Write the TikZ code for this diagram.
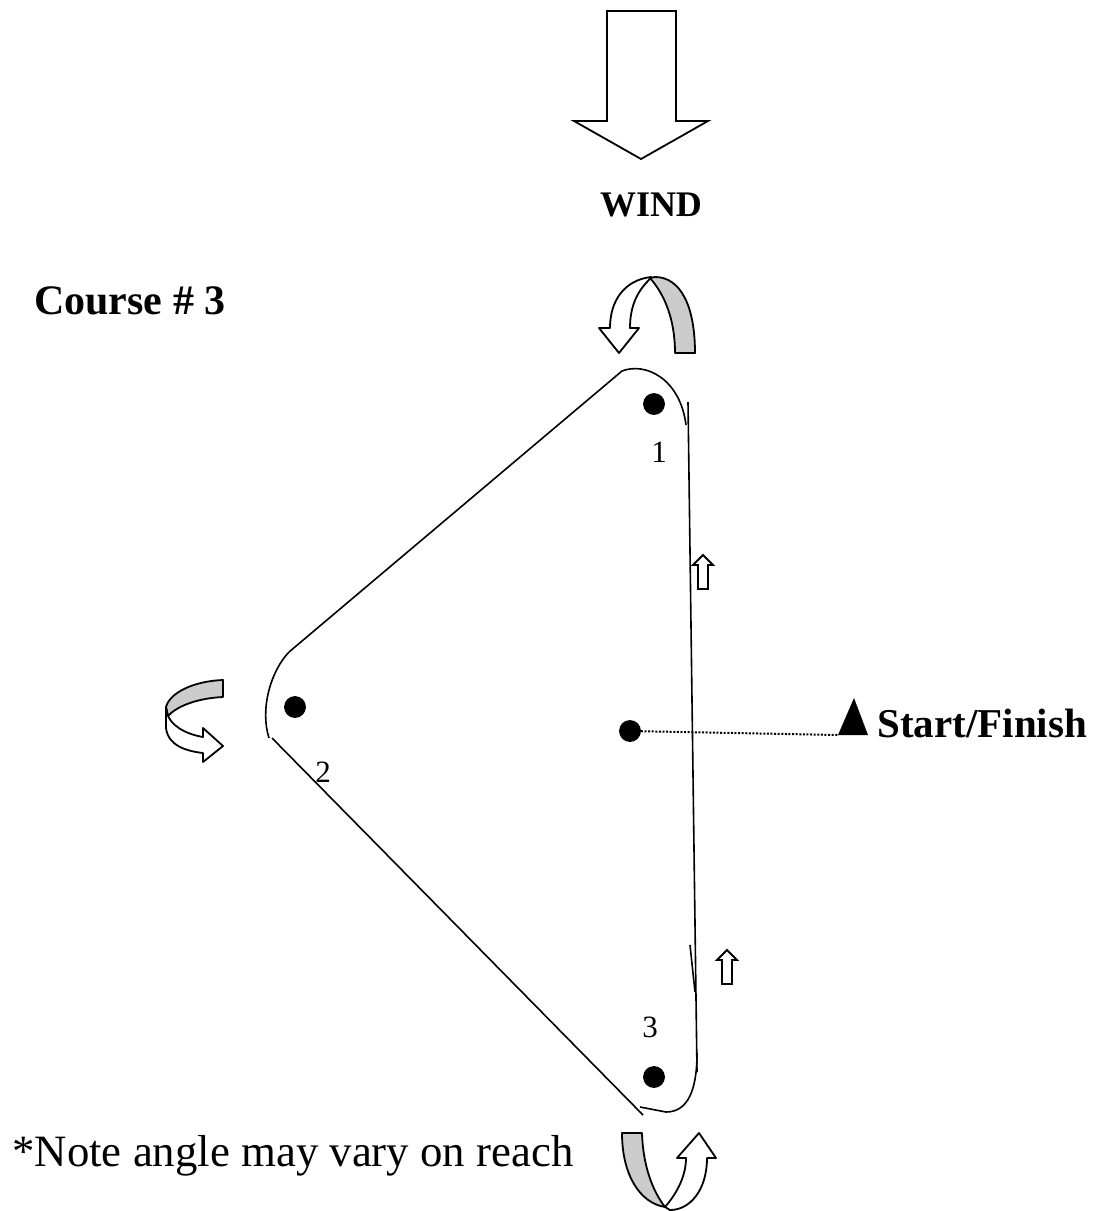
\documentclass[tikz,border=0pt]{standalone}
\usepackage{fontspec}
\setmainfont{Liberation Serif}
\usetikzlibrary{positioning}
\begin{document}
\begin{tikzpicture}[x=0.5pt,y=-0.5pt]
\tikzstyle{dot}=[draw,shape=circle,fill=black,inner sep=0pt,minimum size=10.5pt]
\tikzstyle{leg}=[line width=0.8pt]
\tikzstyle{ribbon}=[draw,line width=0.9pt,line join=round]
\tikzstyle{marknum}=[inner sep=0pt,font=\fontsize{15.5}{18}\selectfont]
\useasboundingbox (0,0) rectangle (1098,1211);
% wind
\draw[line width=0.9pt] (607,11) -- (676,11) -- (676,121) -- (708,121) -- (641,159) -- (574,121) -- (607,121) -- cycle;
\node[anchor=base,inner sep=0pt,font=\bfseries\fontsize{18}{22}\selectfont] at (651,216) (wind) {WIND};
\node[anchor=base east,inner sep=0pt,font=\bfseries\fontsize{21}{25}\selectfont] at (226,314) (course) {Course \# 3};
% marks
\node[dot] at (654,404) (p1) {};
\node[dot] at (295,707) (p2) {};
\node[dot] at (654,1077) (p3) {};
\node[dot] at (630,731) (pstart) {};
\node[marknum,anchor=north] at (659,442) (n1) {1};
\node[marknum,anchor=north] at (323,762) (n2) {2};
\node[marknum,anchor=north] at (650,1017) (n3) {3};
% start line
\coordinate (flag) at (838,735);
\fill (flag) -- (868,735) -- (854,698) -- cycle;
\node[anchor=base west,inner sep=0pt,font=\bfseries\fontsize{20.5}{24}\selectfont] at (877,737) (finish) {Start/Finish};
\draw[line width=1pt,dash pattern=on 1pt off 0.8pt] (pstart) -- (flag);
% course
\draw[leg] (289,652) -- (622,371) .. controls (645,362) and (680,378) .. (686,425);
\draw[leg] (289,652) .. controls (270,672) and (260,710) .. (269,738);
\draw[leg] (688,402) -- (697,1072);
\draw[leg] (690,945) -- (695,992);
\draw[leg] (697,1053) .. controls (697,1090) and (688,1112) .. (666,1112) -- (640,1107);
\draw[leg] (272,738) -- (643,1115);
% small arrows
\foreach \x/\y in {703/589, 727/984}
  \draw[line width=0.9pt,shift={(\x,\y)}] (-5,0) -- (-5,-24) -- (-10,-24) -- (0,-34) -- (10,-24) -- (5,-24) -- (5,0) -- cycle;
% rounding arrows
\filldraw[ribbon,fill=black!20] (675,353) -- (695,353) .. controls (695,305) and (680,277) .. (655,277) -- (650,278) .. controls (665,295) and (675,320) .. cycle;
\filldraw[ribbon,fill=white] (651,277) .. controls (625,280) and (610,300) .. (610,328) -- (599,328) -- (619,353) -- (639,328) -- (630,328) .. controls (630,305) and (638,290) .. (651,278) -- cycle;
\filldraw[ribbon,fill=black!20] (223,680) .. controls (195,681) and (170,692) .. (166,707) -- (168,716) .. controls (178,705) and (200,698) .. (223,697) -- cycle;
\filldraw[ribbon,fill=white] (166,707) -- (166,728) .. controls (168,745) and (185,751) .. (203,753) -- (203,762) -- (223,746) -- (203,728) -- (203,737) .. controls (185,734) and (170,725) .. (167,713) -- cycle;
\filldraw[ribbon,fill=black!20] (622,1133) -- (642,1133) .. controls (643,1165) and (652,1190) .. (665,1207) .. controls (640,1203) and (622,1175) .. cycle;
\filldraw[ribbon,fill=white] (665,1207) .. controls (678,1192) and (686,1175) .. (686,1158) -- (677,1158) -- (699,1133) -- (716,1158) -- (707,1158) .. controls (707,1190) and (690,1210) .. (670,1210) -- cycle;
\node[anchor=base west,inner sep=0pt,font=\fontsize{22.4}{26}\selectfont] at (12,1166) (note) {*Note angle may vary on reach};
\end{tikzpicture}
\end{document}
